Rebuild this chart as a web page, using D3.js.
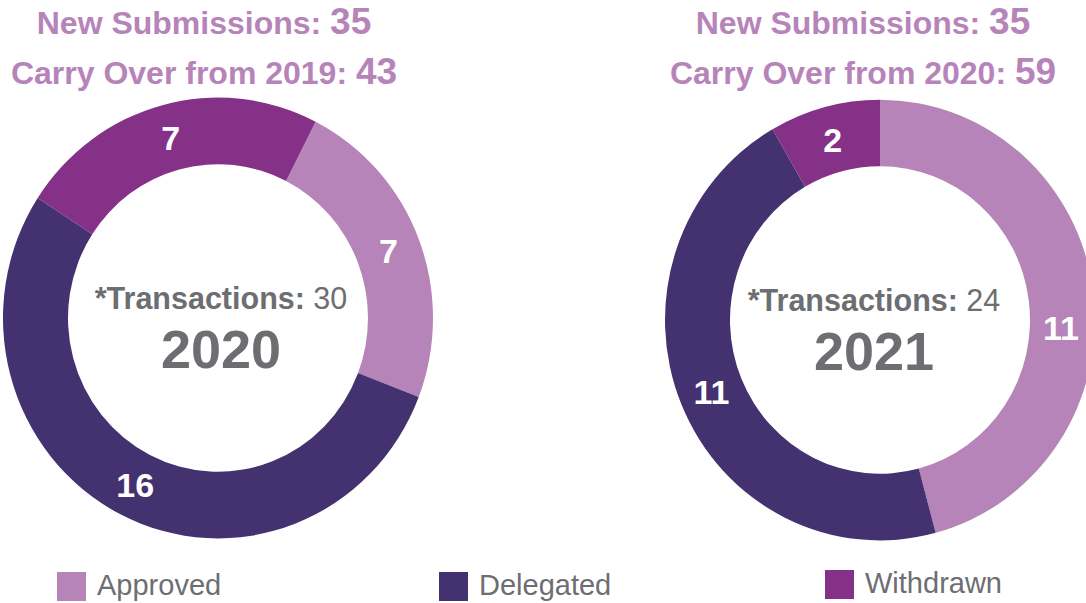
<!DOCTYPE html>
<html>
<head>
<meta charset="utf-8">
<script src="https://cdn.jsdelivr.net/npm/d3@7"></script>
<style>
  body { margin: 0; background: #fff; }
  svg { display: block; font-family: "Liberation Sans", Arial, sans-serif; }
</style>
</head>
<body>
<div id="chart"></div>
<script>
// ---------------------------------------------------------------------------
// Data
// ---------------------------------------------------------------------------
var categories = ["Approved", "Delegated", "Withdrawn"];
var years = ["2020", "2021"];
var values2020 = [7, 16, 7];
var values2021 = [11, 11, 2];
var transactions = [30, 24];
var newSubmissions = [35, 35];
var carryOverYears = ["2019", "2020"];
var carryOver = [43, 59];
var colors = ["#b684b8", "#44316f", "#853188"];

// ---------------------------------------------------------------------------
// Layout
// ---------------------------------------------------------------------------
var width = 1086, height = 603;
var rOuter = 215, rInner = 150, yStretch = 1.025;
var titleColor = "#b784b9", grey = "#6d6e71";

var donuts = [
  {cx: 218, cy: 318, tx: 204, mx: 3, start: 27 * Math.PI / 180, values: values2020},
  {cx: 880, cy: 320, tx: 863, mx: -6, start: 0, values: values2021}
];

var svg = d3.select("#chart").append("svg")
    .attr("width", width)
    .attr("height", height);

var arc = d3.arc()
    .innerRadius(rInner)
    .outerRadius(rOuter);

var labelArc = d3.arc()
    .innerRadius((rInner + rOuter) / 2)
    .outerRadius((rInner + rOuter) / 2);

donuts.forEach(function(d, i) {
  var pie = d3.pie()
      .sort(null)
      .startAngle(d.start)
      .endAngle(d.start + 2 * Math.PI);
  var slices = pie(d.values);

  var g = svg.append("g")
      .attr("transform", "translate(" + d.cx + "," + d.cy + ")");

  g.append("g")
      .attr("transform", "scale(1," + yStretch + ")")
    .selectAll("path")
    .data(slices)
    .enter().append("path")
      .attr("d", arc)
      .attr("fill", function(s, j) { return colors[j]; });

  g.selectAll(".val")
    .data(slices)
    .enter().append("text")
      .attr("class", "val")
      .attr("x", function(s) { return labelArc.centroid(s)[0]; })
      .attr("y", function(s, j) {
        var y = labelArc.centroid(s)[1] * yStretch;
        // the right-hand label sits lower in the original (slice is cut off)
        if (i == 1 && j == 0) y += 32;
        return y;
      })
      .attr("dy", "0.36em")
      .attr("text-anchor", "middle")
      .attr("fill", "#fff")
      .attr("font-weight", "bold")
      .attr("font-size", 34)
      .text(function(s) { return s.data; });

  // centre text
  var t = g.append("text")
      .attr("x", d.mx)
      .attr("y", -9)
      .attr("text-anchor", "middle")
      .attr("fill", grey)
      .attr("font-size", 30.5);
  t.append("tspan").attr("font-weight", "bold").text("*Transactions: ");
  t.append("tspan").text(transactions[i]);

  g.append("text")
      .attr("x", d.mx)
      .attr("y", 50)
      .attr("text-anchor", "middle")
      .attr("fill", grey)
      .attr("font-weight", "bold")
      .attr("font-size", 54)
      .text(years[i]);

  // titles above
  var t1 = svg.append("text")
      .attr("x", d.tx)
      .attr("y", 34)
      .attr("text-anchor", "middle")
      .attr("fill", titleColor)
      .attr("font-weight", "bold")
      .attr("font-size", 32);
  t1.append("tspan").text("New Submissions: ");
  t1.append("tspan").attr("font-size", 37).text(newSubmissions[i]);

  var t2 = svg.append("text")
      .attr("x", d.tx)
      .attr("y", 84)
      .attr("text-anchor", "middle")
      .attr("fill", titleColor)
      .attr("font-weight", "bold")
      .attr("font-size", 32);
  t2.append("tspan").text("Carry Over from " + carryOverYears[i] + ": ");
  t2.append("tspan").attr("font-size", 37).text(carryOver[i]);
});

// ---------------------------------------------------------------------------
// Legend
// ---------------------------------------------------------------------------
var legendX = [57, 439, 825];
var legendY = [572, 572, 570];

var legend = svg.selectAll(".legend")
    .data(categories)
  .enter().append("g")
    .attr("class", "legend")
    .attr("transform", function(d, i) {
      return "translate(" + legendX[i] + "," + legendY[i] + ")";
    });

legend.append("rect")
    .attr("width", 29)
    .attr("height", 29)
    .attr("fill", function(d, i) { return colors[i]; });

legend.append("text")
    .attr("x", 40)
    .attr("y", 23)
    .attr("fill", grey)
    .attr("font-size", 29)
    .text(function(d) { return d; });
</script>
</body>
</html>
